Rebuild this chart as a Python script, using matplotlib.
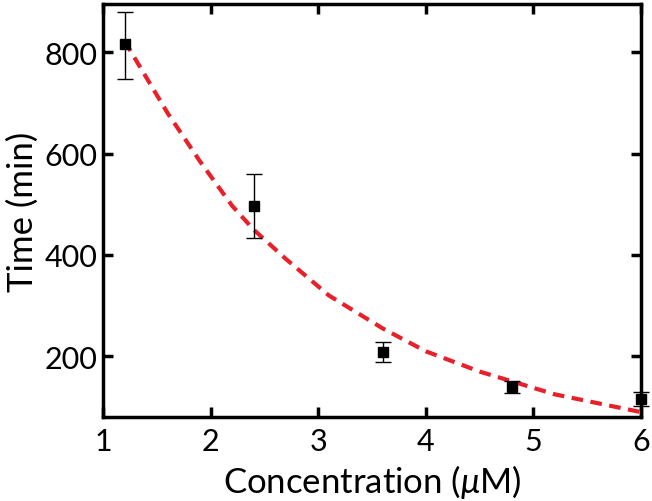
import matplotlib.pyplot as plt

# Data
conc = [1.2, 2.4, 3.6, 4.8, 6.0]
time_min = [816, 496, 209, 139, 116]
err_low = [68, 62, 21, 12, 13]
err_high = [64, 64, 20, 12, 13]

# fitted decay curve
fit_x = [1.2, 1.6, 1.9, 2.2, 2.4, 2.7, 3.1, 3.6, 4.0, 4.5, 5.2, 6.0]
fit_y = [822, 680, 585, 497, 450, 392, 320, 255, 210, 170, 125, 90]

plt.rcParams['font.family'] = ['Lato', 'DejaVu Sans']
plt.rcParams['mathtext.fontset'] = 'custom'
plt.rcParams['mathtext.it'] = 'Lato:italic'

fig = plt.figure(figsize=(6.52, 5.02), dpi=100)
ax = fig.add_axes([0.158, 0.167, 0.825, 0.823])

ax.plot(fit_x, fit_y, color='#e8202a', linestyle=(0, (2.8, 1.8)), linewidth=3, zorder=2)
ax.errorbar(conc, time_min, yerr=[err_low, err_high], fmt='s', color='black',
            markersize=7.5, ecolor='black', elinewidth=1, capsize=6, capthick=1,
            clip_on=False, zorder=3)

ax.set_xlim(1, 6)
ax.set_ylim(80, 895)
ax.set_xticks([1, 2, 3, 4, 5, 6])
ax.set_yticks([200, 400, 600, 800])

ax.set_xlabel("Concentration ($\\mu$M)", fontsize=25, labelpad=5)
ax.set_ylabel("Time (min)", fontsize=25, labelpad=4)

for s in ax.spines.values():
    s.set_linewidth(2.5)
ax.tick_params(direction='in', length=7, width=2.5, top=True, right=True,
               labelsize=22)
ax.tick_params(axis='x', pad=7)
ax.tick_params(axis='y', pad=4)

plt.savefig('out.png', dpi=100)
